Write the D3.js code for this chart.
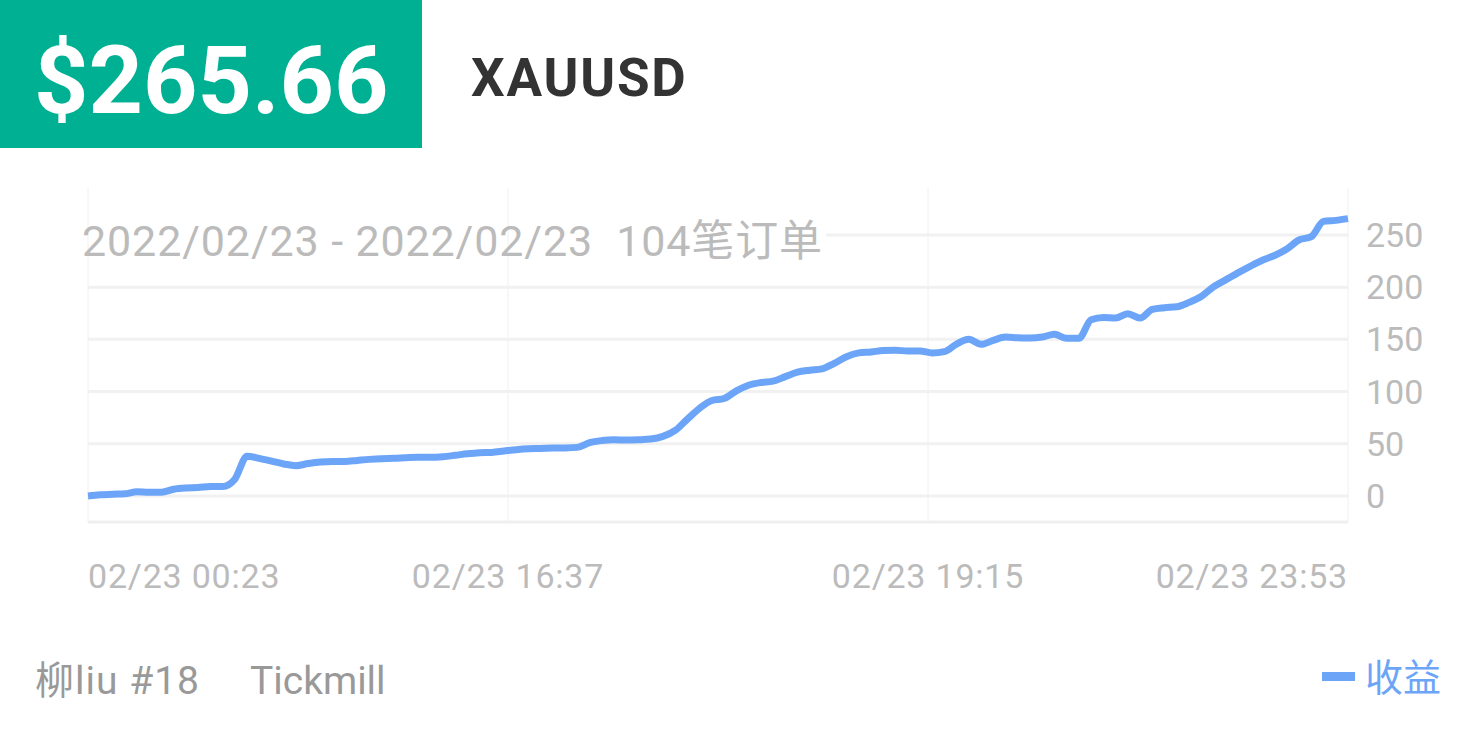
<!DOCTYPE html>
<html>
<head>
<meta charset="utf-8">
<script src="https://cdn.jsdelivr.net/npm/d3@7"></script>
<style>
  body { margin: 0; background: #fff; }
  svg { display: block; }
</style>
</head>
<body>
<div id="chart"></div>
<script>
// profit curve, one value per closed order (104 orders)
const profit = [
  0, 1, 1.6, 2, 4, 3.5, 3.5, 6.4, 7.6, 8,
  9, 9, 16, 38, 36, 33.4, 30.6, 29, 31, 32.5,
  33, 33, 34, 35, 35.7, 36, 36.6, 37, 37, 37.6,
  38.9, 40.4, 41.4, 41.7, 43, 44.3, 45.2, 45.5, 45.9, 46,
  46.5, 51, 53, 53.8, 53.5, 53.8, 54.5, 57, 62.7, 73.6,
  84, 91.4, 93.3, 100.6, 106, 108.6, 109.9, 114.3, 118.5, 120.4,
  121.7, 127, 133.4, 137, 137.9, 139.2, 139.5, 138.9, 138.9, 137,
  138.2, 145.5, 150, 145.2, 149, 152.2, 151.6, 151.3, 152.2, 154.8,
  151, 151, 168.8, 171, 170.4, 174.5, 170.4, 178.7, 180.3, 181.2,
  185.4, 191, 200.3, 207, 213.7, 220, 225.8, 230.3, 236.6, 245.2,
  248.4, 263, 264, 265.66
];
const yTicks = [0, 50, 100, 150, 200, 250];
const xLabels = ['02/23 00:23', '02/23 16:37', '02/23 19:15', '02/23 23:53'];

const totalText = '$265.66';
const symbol = 'XAUUSD';
const rangeText = '2022/02/23 - 2022/02/23  104笔订单';
const account = '柳liu #18';
const broker = 'Tickmill';
const seriesName = '收益';

const width = 1477;
const height = 738;
const blue = '#6ca5f8';
const font = 'Roboto, "Noto Sans CJK SC", sans-serif';

const svg = d3.select('#chart')
  .append('svg')
  .attr('width', width)
  .attr('height', height);

// header
svg.append('rect')
  .attr('x', 0).attr('y', 0)
  .attr('width', 422).attr('height', 148)
  .attr('fill', '#00b093');

svg.append('text')
  .attr('x', 34).attr('y', 113)
  .attr('font-family', font)
  .attr('font-weight', 700)
  .attr('font-size', 95)
  .attr('fill', '#fff')
  .text(totalText);

svg.append('text')
  .attr('x', 471).attr('y', 96)
  .attr('font-family', font)
  .attr('font-weight', 700)
  .attr('font-size', 53)
  .attr('letter-spacing', 1.8)
  .attr('fill', '#333')
  .text(symbol);

// plot
const plotLeft = 88, plotRight = 1348, plotTop = 188, plotBottom = 522;

const xScale = d3.scaleLinear()
  .domain([0, profit.length - 1])
  .range([plotLeft, plotRight]);

const yScale = d3.scaleLinear()
  .domain([-25, 295])
  .range([plotBottom, plotTop]);

const grid = svg.append('g');

grid.selectAll('line.h')
  .data(yTicks)
  .enter()
  .append('line')
  .attr('class', 'h')
  .attr('x1', plotLeft).attr('x2', plotRight)
  .attr('y1', d => yScale(d)).attr('y2', d => yScale(d))
  .attr('stroke', '#f1f1f1')
  .attr('stroke-width', 3);

grid.append('line')
  .attr('x1', plotLeft).attr('x2', plotRight)
  .attr('y1', plotBottom).attr('y2', plotBottom)
  .attr('stroke', '#efefef')
  .attr('stroke-width', 3);

// range text sits on a white plate over the top grid line
svg.append('rect')
  .attr('x', 82).attr('y', 228)
  .attr('width', 744).attr('height', 14)
  .attr('fill', '#fff');

const xTickIdx = xLabels.map((d, i) => i * (profit.length - 1) / (xLabels.length - 1));

svg.append('g')
  .selectAll('line')
  .data(xTickIdx)
  .enter()
  .append('line')
  .attr('x1', d => xScale(d)).attr('x2', d => xScale(d))
  .attr('y1', plotTop).attr('y2', plotBottom)
  .attr('stroke', '#f0f0f0')
  .attr('stroke-width', 1);

svg.append('text')
  .attr('x', 82).attr('y', 256)
  .attr('font-family', font)
  .attr('font-size', 43)
  .attr('fill', '#bbb')
  .style('white-space', 'pre')
  .attr('textLength', 740)
  .attr('lengthAdjust', 'spacing')
  .text(rangeText);

// y labels on the right
svg.append('g')
  .selectAll('text')
  .data(yTicks)
  .enter()
  .append('text')
  .attr('x', 1366)
  .attr('y', d => yScale(d) + 12)
  .attr('font-family', font)
  .attr('font-size', 34)
  .attr('fill', '#bbb')
  .text(d => d);

// x labels
svg.append('g')
  .selectAll('text')
  .data(xLabels)
  .enter()
  .append('text')
  .attr('x', (d, i) => xScale(xTickIdx[i]))
  .attr('y', 588)
  .attr('text-anchor', (d, i) => i === 0 ? 'start' : (i === xLabels.length - 1 ? 'end' : 'middle'))
  .attr('font-family', font)
  .attr('font-size', 34)
  .attr('letter-spacing', 0.8)
  .attr('fill', '#bbb')
  .text(d => d);

// profit line
const line = d3.line()
  .x((d, i) => xScale(i))
  .y(d => yScale(d))
  .curve(d3.curveMonotoneX);

svg.append('path')
  .datum(profit)
  .attr('d', line)
  .attr('fill', 'none')
  .attr('stroke', blue)
  .attr('stroke-width', 7)
  .attr('stroke-linejoin', 'round');

// footer
svg.append('text')
  .attr('x', 35).attr('y', 694)
  .attr('font-family', font)
  .attr('font-size', 39)
  .attr('letter-spacing', 1)
  .attr('fill', '#999')
  .text(account);

svg.append('text')
  .attr('x', 250).attr('y', 694)
  .attr('font-family', font)
  .attr('font-size', 39)
  .attr('fill', '#999')
  .text(broker);

// legend
svg.append('rect')
  .attr('x', 1322).attr('y', 672)
  .attr('width', 33).attr('height', 9)
  .attr('fill', blue);

svg.append('text')
  .attr('x', 1365).attr('y', 691)
  .attr('font-family', '"Noto Sans CJK SC", sans-serif')
  .attr('font-size', 38)
  .attr('fill', blue)
  .text(seriesName);
</script>
</body>
</html>
